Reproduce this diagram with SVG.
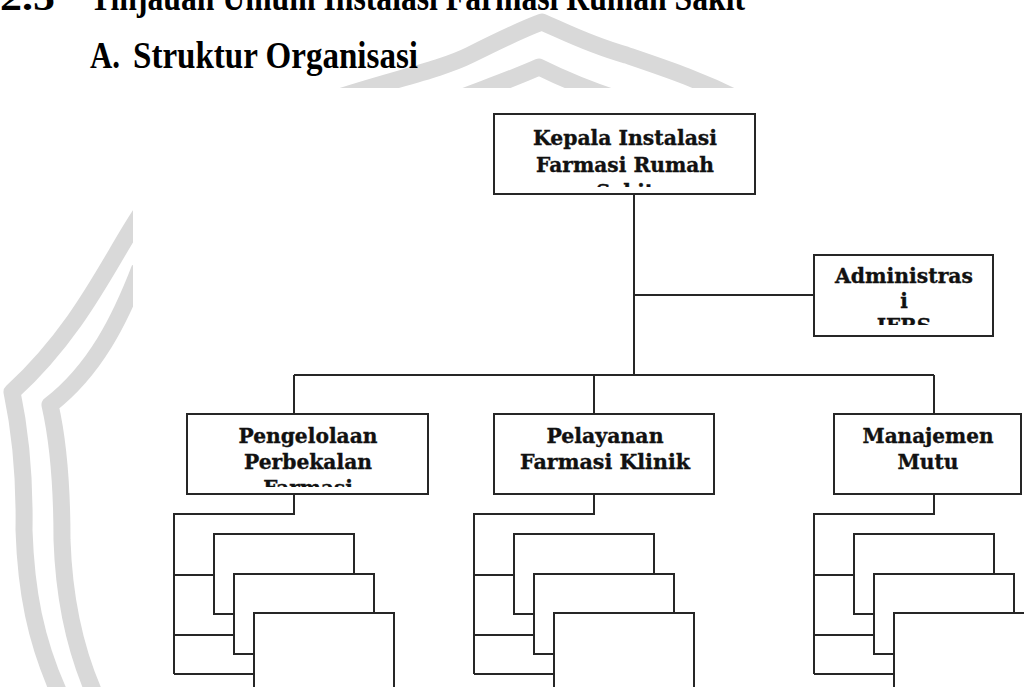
<svg xmlns="http://www.w3.org/2000/svg" width="1024" height="687" viewBox="0 0 1024 687">
<style>
.wm{fill:none;stroke:#d9d9d9;stroke-width:17;stroke-linejoin:round;stroke-linecap:butt}
.hd{font-family:"Liberation Serif","Times New Roman",serif;font-weight:bold;font-size:37px;fill:#000}
.box{fill:#fff;stroke:#262626;stroke-width:2}
.lbl{font-family:"DejaVu Serif",serif;font-weight:bold;font-size:20px;fill:#111;stroke:#111;stroke-width:0.35;text-anchor:middle}
.ln{fill:none;stroke:#262626;stroke-width:2}
</style>
<defs>
<clipPath id="cK"><rect x="495" y="115" width="259" height="72"/></clipPath>
<clipPath id="cA"><rect x="815" y="256" width="177" height="69"/></clipPath>
<clipPath id="cP"><rect x="188" y="415" width="239" height="72"/></clipPath>
</defs>
<rect width="1024" height="687" fill="#fff"/>
<g id="watermark">
<path class="wm" d="M330,100 C390,80 440,70 470,55 C500,40 525,28 542,22 C565,32 590,45 626,55 C670,70 700,80 740,100"/>
<path class="wm" d="M455,100 C480,90 510,80 539,67 C565,80 590,90 620,100"/>
<path class="wm" d="M140,215 C110,260 80,330 12,392 C20,430 25,470 24,530 C26,590 35,640 60,695"/>
<path class="wm" d="M140,268 C120,320 95,370 50,405 C58,440 62,480 62,540 C64,600 75,650 95,695"/>
</g>
<rect x="133" y="88" width="891" height="599" fill="#fff"/>
<g id="heading">
<text class="hd" x="0" y="10" textLength="55" lengthAdjust="spacingAndGlyphs">2.5</text>
<text class="hd" x="90" y="10" textLength="655" lengthAdjust="spacingAndGlyphs">Tinjauan Umum Instalasi Farmasi Rumah Sakit</text>
<text class="hd" x="90" y="68" textLength="30" lengthAdjust="spacingAndGlyphs">A.</text>
<text class="hd" x="133" y="68" textLength="285" lengthAdjust="spacingAndGlyphs">Struktur Organisasi</text>
</g>
<g id="connectors">
<path class="ln" d="M634,194 V375"/>
<path class="ln" d="M634,295 H814"/>
<path class="ln" d="M294,375 H934"/>
<path class="ln" d="M294,375 V414 M594,375 V414 M934,375 V414"/>
<path class="ln" d="M294,494 V514 H174 V674 M174,575 H214 M174,635 H234 M174,674 H254"/>
<path class="ln" d="M594,494 V514 H474 V674 M474,575 H514 M474,635 H534 M474,674 H554"/>
<path class="ln" d="M934,494 V514 H814 V674 M814,575 H854 M814,635 H874 M814,674 H894"/>
</g>
<g id="kepala">
<rect class="box" x="494" y="114" width="261" height="80"/>
<g clip-path="url(#cK)">
<text class="lbl" x="625" y="145" textLength="184" lengthAdjust="spacingAndGlyphs">Kepala Instalasi</text>
<text class="lbl" x="625" y="172" textLength="178" lengthAdjust="spacingAndGlyphs">Farmasi Rumah</text>
<text class="lbl" x="625" y="199">Sakit</text>
</g>
</g>
<g id="administrasi">
<rect class="box" x="814" y="255" width="179" height="81"/>
<g clip-path="url(#cA)">
<text class="lbl" x="904" y="283" textLength="138" lengthAdjust="spacingAndGlyphs">Administras</text>
<text class="lbl" x="904" y="308">i</text>
<text class="lbl" x="904" y="333">IFRS</text>
</g>
</g>
<g id="pengelolaan">
<rect class="box" x="187" y="414" width="241" height="80"/>
<g clip-path="url(#cP)">
<text class="lbl" x="308" y="443" textLength="139" lengthAdjust="spacingAndGlyphs">Pengelolaan</text>
<text class="lbl" x="308" y="469" textLength="128" lengthAdjust="spacingAndGlyphs">Perbekalan</text>
<text class="lbl" x="308" y="495">Farmasi</text>
</g>
</g>
<g id="pelayanan">
<rect class="box" x="494" y="414" width="220" height="80"/>
<text class="lbl" x="605" y="443" textLength="117" lengthAdjust="spacingAndGlyphs">Pelayanan</text>
<text class="lbl" x="605" y="469" textLength="170" lengthAdjust="spacingAndGlyphs">Farmasi Klinik</text>
</g>
<g id="manajemen">
<rect class="box" x="834" y="414" width="187" height="80"/>
<text class="lbl" x="928" y="443" textLength="131" lengthAdjust="spacingAndGlyphs">Manajemen</text>
<text class="lbl" x="928" y="469" textLength="61" lengthAdjust="spacingAndGlyphs">Mutu</text>
</g>
<g id="sub-pengelolaan">
<rect class="box" x="214" y="534" width="140" height="80"/>
<rect class="box" x="234" y="574" width="140" height="80"/>
<rect class="box" x="254" y="613" width="140" height="90"/>
</g>
<g id="sub-pelayanan">
<rect class="box" x="514" y="534" width="140" height="80"/>
<rect class="box" x="534" y="574" width="140" height="80"/>
<rect class="box" x="554" y="613" width="140" height="90"/>
</g>
<g id="sub-manajemen">
<rect class="box" x="854" y="534" width="140" height="80"/>
<rect class="box" x="874" y="574" width="140" height="80"/>
<rect class="box" x="894" y="613" width="140" height="90"/>
</g>
</svg>
